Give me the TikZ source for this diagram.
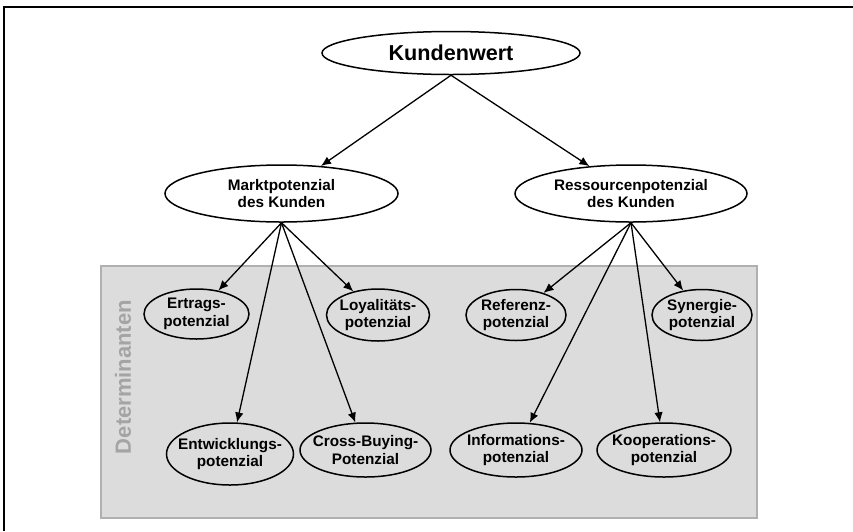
\documentclass[tikz,border=0pt]{standalone}
\usepackage{fontspec}
\setmainfont{Liberation Sans}
\usetikzlibrary{shapes.geometric,arrows.meta}
\definecolor{panelfill}{HTML}{DCDCDC}
\definecolor{panelline}{HTML}{B0B0B0}
\definecolor{paneltext}{HTML}{A4A4A4}
\begin{document}
\begin{tikzpicture}[x=1pt,y=-1pt,
  oval/.style={ellipse, draw, line width=1.5pt, inner xsep=-15pt, inner ysep=-5pt,
    align=center, font=\fontsize{15.3}{17.6}\selectfont\bfseries},
  link/.style={line width=1.3pt, -{Latex[length=10pt,width=8.5pt]}}]
\useasboundingbox (0,0) rectangle (853,531);
% outer frame (top and left edges)
\draw[line width=2pt] (4,531) -- (4,7) -- (853,7);
% panel of determinants
\draw[fill=panelfill, draw=panelline, line width=2pt] (101,266) rectangle (757,518);
\node[rotate=90, text=paneltext, font=\fontsize{22}{26}\selectfont\bfseries] (det) at (123,377) {Determinanten};
% top level
\node[oval, minimum width=258pt, minimum height=43pt, font=\fontsize{21.6}{25}\selectfont\bfseries] (kw) at (451,53) {Kundenwert};
% second level
\node[oval, minimum width=233pt, minimum height=57pt] (markt) at (281.5,193.5) {Marktpotenzial\\des Kunden};
\node[oval, minimum width=232pt, minimum height=57pt] (res) at (631,193.5) {Ressourcenpotenzial\\des Kunden};
% determinants
\node[oval, minimum width=105pt, minimum height=50pt] (ertrag) at (196.5,314) {Ertrags-\\potenzial};
\node[oval, minimum width=103pt, minimum height=52pt] (loyal) at (378,315) {Loyalitäts-\\potenzial};
\node[oval, minimum width=127pt, minimum height=62pt] (entw) at (230,454) {Entwicklungs-\\potenzial};
\node[oval, minimum width=131pt, minimum height=54pt] (cross) at (365.5,450) {Cross-Buying-\\Potenzial};
\node[oval, minimum width=100pt, minimum height=51pt] (ref) at (516,315) {Referenz-\\potenzial};
\node[oval, minimum width=100pt, minimum height=51pt] (syn) at (702,315) {Synergie-\\potenzial};
\node[oval, minimum width=132pt, minimum height=54pt] (info) at (516,450) {Informations-\\potenzial};
\node[oval, minimum width=134pt, minimum height=54pt] (koop) at (664,450) {Kooperations-\\potenzial};
% connectors
\draw[link] (kw.south) -- (markt);
\draw[link] (kw.south) -- (res);
\draw[link] (markt.south) -- (ertrag);
\draw[link] (markt.south) -- (loyal);
\draw[link] (markt.south) -- (entw);
\draw[link] (markt.south) -- (cross);
\draw[link] (res.south) -- (ref);
\draw[link] (res.south) -- (syn);
\draw[link] (res.south) -- (info);
\draw[link] (res.south) -- (koop);
\end{tikzpicture}
\end{document}
